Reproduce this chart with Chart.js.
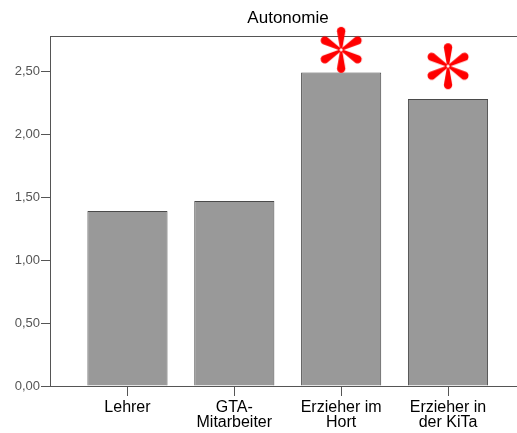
<!DOCTYPE html>
<html lang="de">
<head>
<meta charset="utf-8">
<title>Autonomie</title>
<script src="https://cdn.jsdelivr.net/npm/chart.js@4.4.1/dist/chart.umd.min.js"></script>
<style>
  html, body { margin: 0; padding: 0; background: #fff; overflow: hidden; }
  #wrap { width: 517px; height: 433px; overflow: hidden; }
</style>
</head>
<body>
<div id="wrap"><canvas id="chart" width="528" height="433"></canvas></div>
<script>
/* ---------- Daten ---------- */
const TITEL = "Autonomie";
const GRUPPEN = [["Lehrer"], ["GTA-", "Mitarbeiter"], ["Erzieher im", "Hort"], ["Erzieher in", "der KiTa"]];
const MITTELWERTE = [1.39, 1.47, 2.49, 2.28];
// Lage der roten Sternchen (signifikant), null = kein Stern
const STERNE = [null, null, 2.67, 2.54];
const Y_TICKS = [0, 0.5, 1, 1.5, 2, 2.5];

const FARBE = {
  balken: "#999999",
  rand: "#4a4a4a",
  achse: "#555555",
  tick: "#555555",
  stern: "#ff0000",
};

const FONT = "'Liberation Sans', Arial, sans-serif";

/* ---------- Sternchen als Punktstil ---------- */
function sternBild() {
  const c = document.createElement("canvas");
  c.width = 50;
  c.height = 50;
  const ctx = c.getContext("2d");
  ctx.fillStyle = FARBE.stern;
  ctx.translate(25, 25);
  const L = 23, R = 4.2;
  for (let k = 0; k < 6; k++) {
    ctx.save();
    ctx.rotate(-Math.PI / 2 + k * Math.PI / 3);
    ctx.beginPath();
    ctx.moveTo(1.5, -1.2);
    ctx.lineTo(L - R, -R);
    ctx.arc(L - R, 0, R, -Math.PI / 2, Math.PI / 2);
    ctx.lineTo(1.5, 1.2);
    ctx.closePath();
    ctx.fill();
    ctx.restore();
  }
  return c;
}

/* ---------- Rahmenlinie oben ---------- */
const rahmenOben = {
  id: "rahmenOben",
  beforeDatasetsDraw(chart) {
    const { ctx, chartArea } = chart;
    ctx.save();
    ctx.strokeStyle = FARBE.achse;
    ctx.lineWidth = 1;
    ctx.beginPath();
    ctx.moveTo(chartArea.left, Math.round(chartArea.top) + 0.5);
    ctx.lineTo(chartArea.right, Math.round(chartArea.top) + 0.5);
    ctx.stroke();
    ctx.restore();
  },
};

const balkenDaten = MITTELWERTE.map((v, i) => ({ x: i, y: v }));
const sternDaten = STERNE.map((v, i) => ({ x: i, y: v })).filter((p) => p.y !== null);

new Chart(document.getElementById("chart"), {
  data: {
    datasets: [
      {
        type: "line",
        data: sternDaten,
        showLine: false,
        pointStyle: sternBild(),
        pointRadius: 1,
        pointHoverRadius: 1,
        clip: false,
        order: 0,
      },
      {
        type: "bar",
        data: balkenDaten,
        backgroundColor: FARBE.balken,
        borderColor: FARBE.rand,
        borderWidth: 1,
        categoryPercentage: 1,
        barPercentage: 0.75,
        order: 1,
      },
    ],
  },
  options: {
    responsive: false,
    animation: false,
    layout: { padding: 0 },
    plugins: {
      legend: { display: false },
      tooltip: { enabled: false },
      title: {
        display: true,
        text: TITEL,
        fullSize: false,
        color: "#000",
        font: { family: FONT, size: 17, weight: "normal", lineHeight: 1.2 },
        padding: { top: 8, bottom: 7.6 },
      },
    },
    scales: {
      x: {
        type: "linear",
        offset: false,
        min: -0.725,
        max: 3.73,
        border: { color: FARBE.achse },
        grid: { offset: false, drawOnChartArea: false, tickLength: 10, color: FARBE.achse },
        afterBuildTicks: (s) => { s.ticks = GRUPPEN.map((_, i) => ({ value: i })); },
        afterFit: (s) => { s.height = 47; s.paddingLeft = 0; s.paddingRight = 0; },
        ticks: {
          autoSkip: false,
          maxRotation: 0,
          padding: 4,
          color: "#000",
          font: { family: FONT, size: 16, lineHeight: "15px" },
          callback: (v) => GRUPPEN[v] || "",
        },
      },
      y: {
        min: 0,
        max: 2.78,
        border: { color: FARBE.achse },
        grid: { drawOnChartArea: false, tickLength: 9, color: FARBE.achse },
        afterBuildTicks: (s) => { s.ticks = Y_TICKS.map((v) => ({ value: v })); },
        afterFit: (s) => { s.width = 50; },
        ticks: {
          padding: 1,
          color: FARBE.tick,
          font: { family: FONT, size: 13 },
          callback: (v) => v.toFixed(2).replace(".", ","),
        },
      },
    },
  },
  plugins: [rahmenOben],
});
</script>
</body>
</html>
